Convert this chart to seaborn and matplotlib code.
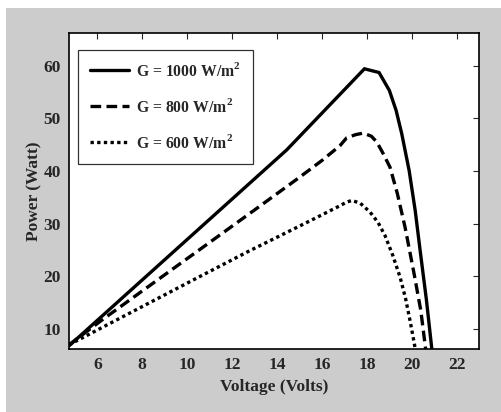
import matplotlib
matplotlib.use("Agg")
import matplotlib.pyplot as plt
import seaborn as sns
import pandas as pd
from matplotlib.patches import Rectangle

# ---- data ----
v_1000 = [4.74, 14.43, 17.89, 18.54, 19.0, 19.3, 19.55, 19.88, 20.15, 20.37, 20.65, 20.89, 20.95]
p_1000 = [6.8, 44.0, 59.4, 58.7, 55.3, 51.5, 47.1, 40.1, 32.5, 24.9, 15.5, 6.2, 4.0]

v_800 = [4.74, 6.27, 10.5, 13.0, 15.0, 16.0, 16.8, 17.1, 17.5, 17.84, 18.2, 18.44, 18.7, 19.03, 19.35, 19.7, 20.1, 20.4, 20.62, 20.68]
p_800 = [7.0, 11.9, 24.9, 32.6, 38.8, 42.0, 44.8, 46.3, 46.9, 47.2, 46.6, 45.5, 43.5, 40.7, 35.8, 29.3, 20.5, 13.5, 6.0, 4.0]

v_600 = [4.74, 10.49, 12.8, 13.99, 15.5, 16.8, 17.1, 17.33, 17.7, 18.14, 18.5, 18.81, 19.15, 19.48, 19.72, 19.92, 20.1, 20.22]
p_600 = [7.0, 19.8, 24.9, 27.4, 30.6, 33.4, 34.1, 34.4, 33.9, 32.2, 30.2, 27.7, 24.0, 19.8, 15.8, 11.6, 7.5, 4.5]

labels = [r"G = 1000 W/m$^{\mathbf{2}}$", r"G = 800 W/m$^{\mathbf{2}}$", r"G = 600 W/m$^{\mathbf{2}}$"]
x_ticks = [6, 8, 10, 12, 14, 16, 18, 20, 22]
y_ticks = [10, 20, 30, 40, 50, 60]

sns.set_style("white")
plt.rcParams["font.family"] = ["Liberation Serif", "DejaVu Serif"]
plt.rcParams["font.weight"] = "bold"
plt.rcParams["mathtext.fontset"] = "custom"
plt.rcParams["mathtext.rm"] = "Liberation Serif:bold"
plt.rcParams["mathtext.bf"] = "Liberation Serif:bold"
plt.rcParams["xtick.direction"] = "in"
plt.rcParams["ytick.direction"] = "in"

fig = plt.figure(figsize=(5.01, 4.12), dpi=100, facecolor="white")
fig.patches.append(Rectangle((6 / 501, 0), 1 - 6 / 501, 1 - 8 / 412,
                             transform=fig.transFigure, facecolor="#cccccc",
                             edgecolor="none", zorder=-10))
ax = fig.add_axes([69 / 501, 1 - 349 / 412, (479 - 69) / 501, (349 - 33) / 412])
ax.set_facecolor("white")

df1 = pd.DataFrame({"V": v_1000, "P": p_1000})
df2 = pd.DataFrame({"V": v_800, "P": p_800})
df3 = pd.DataFrame({"V": v_600, "P": p_600})

sns.lineplot(data=df1, x="V", y="P", ax=ax, color="black", lw=2.4, sort=False,
             label=labels[0], solid_joinstyle="miter")
sns.lineplot(data=df2, x="V", y="P", ax=ax, color="black", lw=2.4, sort=False,
             label=labels[1], linestyle=(0, (3.2, 1.6)))
sns.lineplot(data=df3, x="V", y="P", ax=ax, color="black", lw=2.4, sort=False,
             label=labels[2], linestyle=(0, (1.0, 1.0)))

ax.set_xlim(4.74, 22.99)
ax.set_ylim(6.2, 66.2)
ax.set_xticks(x_ticks)
ax.set_yticks(y_ticks)
ax.tick_params(axis="both", which="both", top=True, right=True, length=4,
               width=0.8, labelsize=12.5, pad=6)
for lab in ax.get_xticklabels() + ax.get_yticklabels():
    lab.set_fontweight("bold")
for s in ax.spines.values():
    s.set_color("black")
    s.set_linewidth(1.2)

ax.set_xlabel("Voltage (Volts)", fontsize=12.5, fontweight="bold", labelpad=4)
ax.set_ylabel("Power (Watt)", fontsize=12.5, fontweight="bold", labelpad=1)

leg = ax.legend(loc="upper left", bbox_to_anchor=(0.022, 0.946), frameon=True,
                fancybox=False, edgecolor="black", fontsize=11.3, handlelength=2.5,
                labelspacing=1.15, borderpad=0.75, handletextpad=0.45,
                borderaxespad=0)
leg.get_frame().set_linewidth(0.9)
for t in leg.get_texts():
    t.set_fontweight("bold")

fig.savefig("out.png", dpi=100, facecolor=fig.get_facecolor())
